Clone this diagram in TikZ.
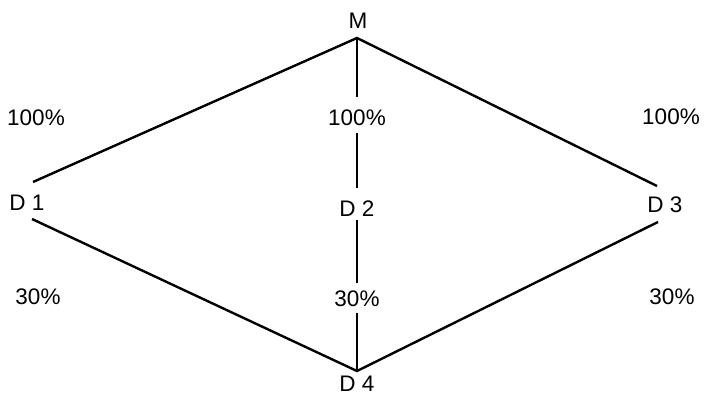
\documentclass[tikz,border=0pt]{standalone}
\usepackage{fontspec}
\setmainfont{Liberation Sans}
\begin{document}
\begin{tikzpicture}[x=1pt,y=-1pt,
  lbl/.style={inner sep=0pt,font=\fontsize{22.5}{26}\selectfont},
  edge/.style={line width=2.4pt,line cap=butt}]
\useasboundingbox (0,0) rectangle (705,396);
% text nodes
\node[lbl] (M)  at (358,21) {M};
\node[lbl] (D1) at (27,203) {D 1};
\node[lbl] (D2) at (357,209) {D 2};
\node[lbl] (D3) at (665,205) {D 3};
\node[lbl] (D4) at (357,384) {D 4};
\node[lbl] (p1) at (36,118) {100\%};
\node[lbl] (p2) at (357,118) {100\%};
\node[lbl] (p3) at (671,117) {100\%};
\node[lbl] (q1) at (38,297) {30\%};
\node[lbl] (q2) at (357,299) {30\%};
\node[lbl] (q3) at (672,297) {30\%};
% connector ends
\coordinate (top) at (357,38);
\coordinate (bot) at (357,371);
\coordinate (d1u) at (33,182);
\coordinate (d1l) at (32,219);
\coordinate (d3u) at (657,186);
\coordinate (d3l) at (658,222);
\coordinate (v1) at (357,97);
\coordinate (v2) at (357,133);
\coordinate (v3) at (357,188);
\coordinate (v4) at (357,220);
\coordinate (v5) at (357,283);
\coordinate (v6) at (357,313);
% connectors
\draw[edge] (d1u) -- (top) -- (d3u);
\draw[edge] (d1l) -- (bot) -- (d3l);
\draw[edge] (top) -- (v1);
\draw[edge] (v2) -- (v3);
\draw[edge] (v4) -- (v5);
\draw[edge] (v6) -- (bot);
\end{tikzpicture}
\end{document}
